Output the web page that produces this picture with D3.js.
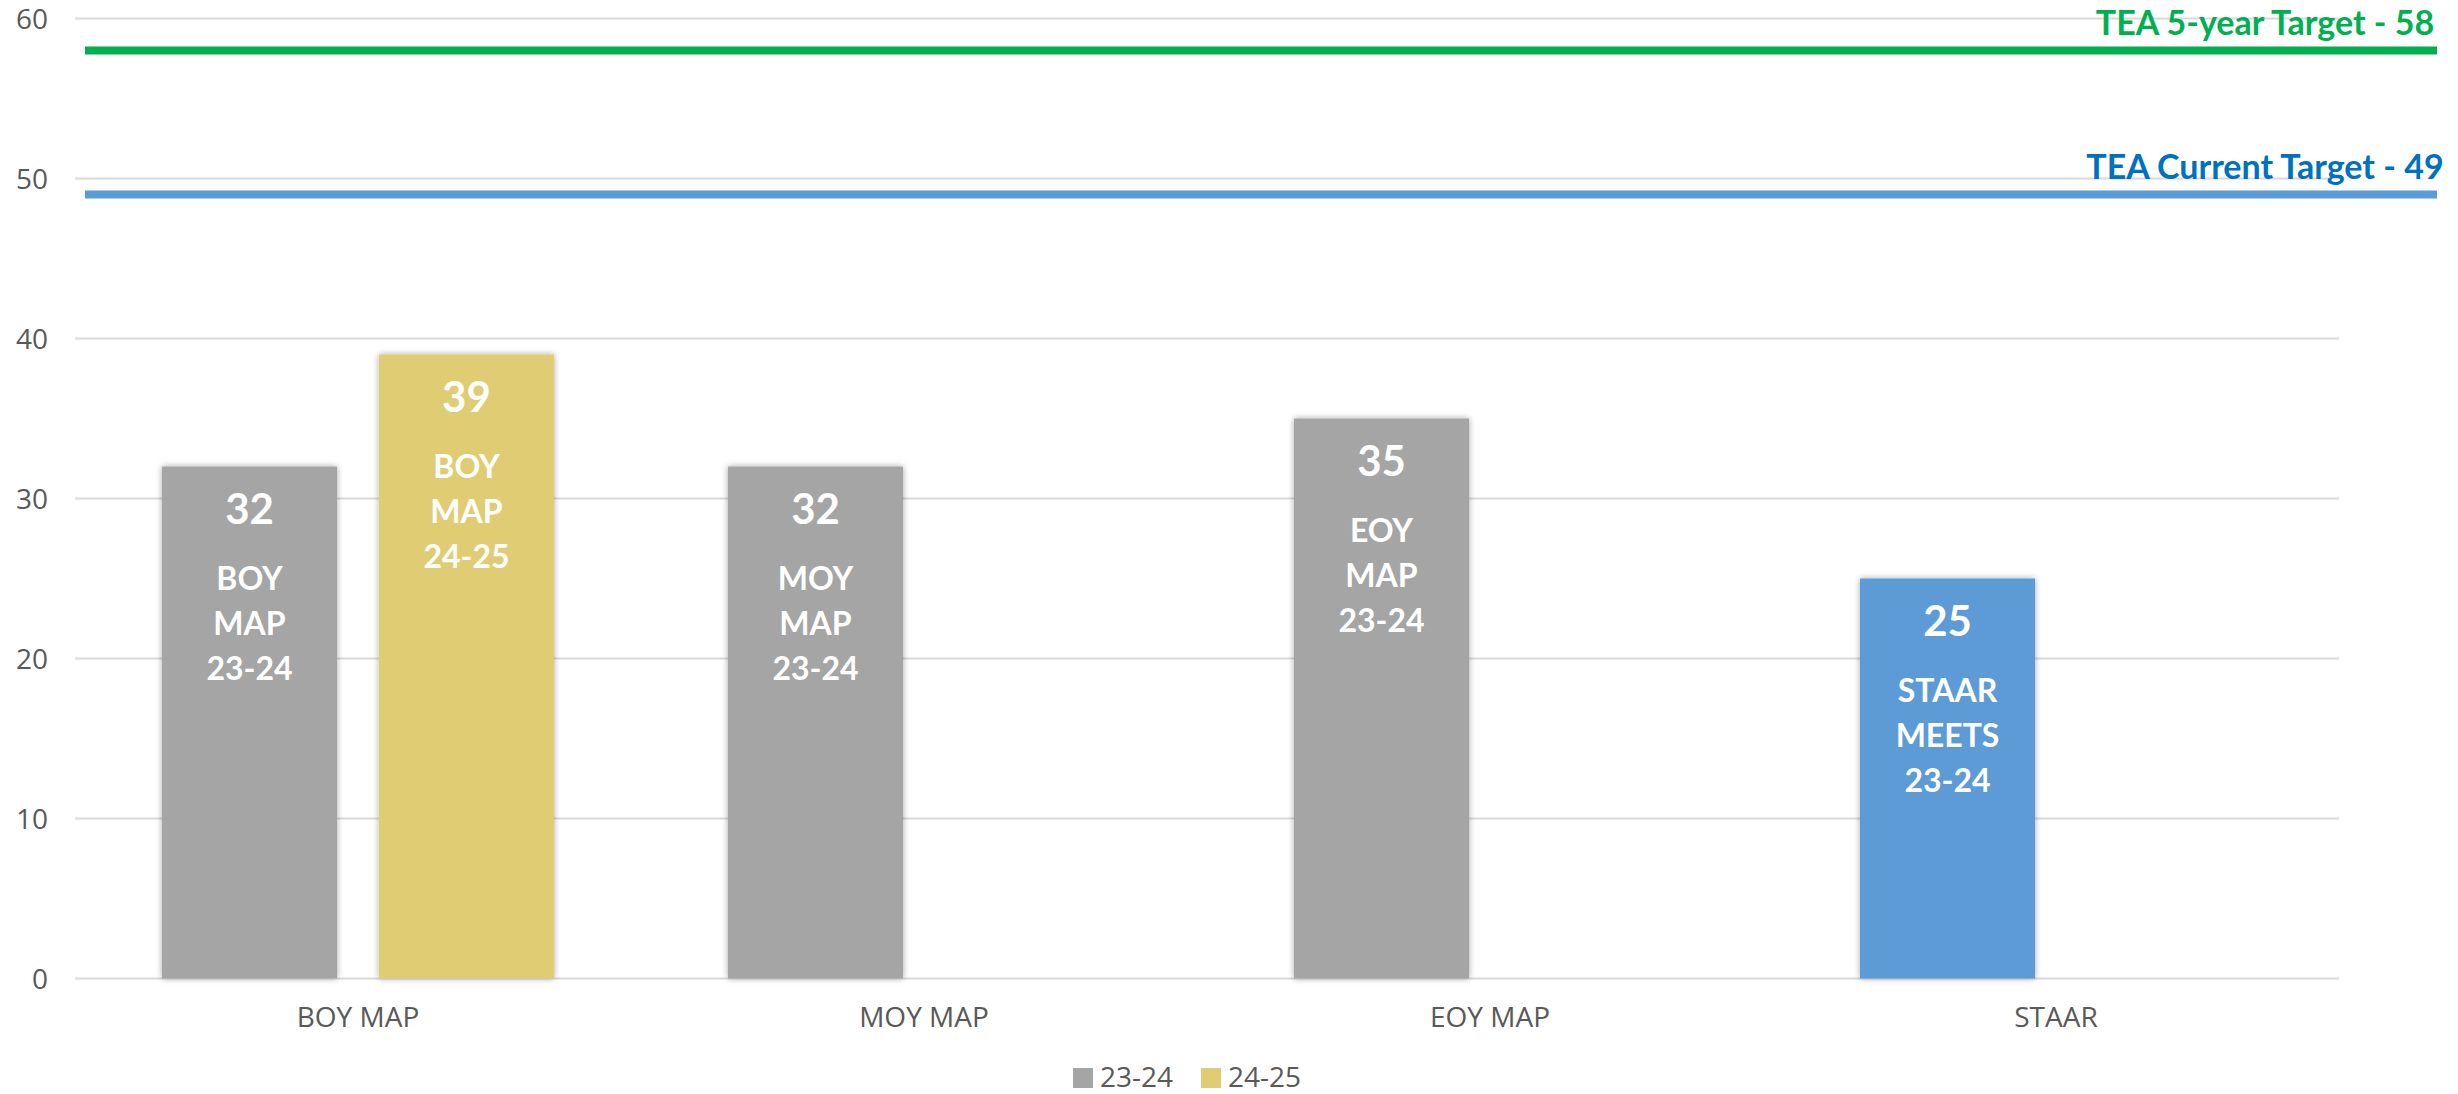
<!DOCTYPE html>
<html>
<head>
<meta charset="utf-8">
<script src="https://cdn.jsdelivr.net/npm/d3@7"></script>
<style>
  html, body { margin: 0; padding: 0; background: #ffffff; }
  svg { display: block; }
</style>
</head>
<body>
<svg id="chart" width="2458" height="1094"></svg>
<script>
// ---------------- DATA ----------------
const categories = ["BOY MAP", "MOY MAP", "EOY MAP", "STAAR"];
const seriesNames = ["23-24", "24-25"];
const values2324 = [32, 32, 35, 25];
const values2425 = [39, null, null, null];
const barText2324 = [["BOY", "MAP", "23-24"], ["MOY", "MAP", "23-24"], ["EOY", "MAP", "23-24"], ["STAAR", "MEETS", "23-24"]];
const barText2425 = [["BOY", "MAP", "24-25"], null, null, null];
const yTicks = [0, 10, 20, 30, 40, 50, 60];
const targetLabels = ["TEA 5-year Target - 58", "TEA Current Target - 49"];
const targetValues = [58, 49];
const highlightCategory = "STAAR";

// ---------------- STYLE / LAYOUT ----------------
const W = 2458, H = 1094;
const plotLeft = 75, plotRight = 2339, plotTop = 18.5, plotBottom = 978.5;
const seriesColor = { "23-24": "#A5A5A5", "24-25": "#E0CD73" };
const highlightColor = "#5B9BD5";
const targetLineColors = ["#00B050", "#5B9BD5"];
const targetTextColors = ["#00B050", "#0070C0"];
const axisFont = "'Open Sans', 'Noto Sans', sans-serif";
const labelFont = "Lato, 'Open Sans', sans-serif";
const textGray = "#595959";

const svg = d3.select("#chart");

const defs = svg.append("defs");
const f = defs.append("filter").attr("id", "shadow")
  .attr("x", "-10%").attr("y", "-10%").attr("width", "120%").attr("height", "120%");
f.append("feDropShadow").attr("dx", 0).attr("dy", 0).attr("stdDeviation", 3)
  .attr("flood-color", "#000").attr("flood-opacity", 0.35);

const y = d3.scaleLinear().domain([0, 60]).range([plotBottom, plotTop]);
const x0 = d3.scaleBand().domain(categories).range([plotLeft, plotRight]).paddingInner(0).paddingOuter(0);
const x1 = d3.scaleBand().domain(seriesNames).range([0, x0.bandwidth()])
  .paddingInner(0.1935).paddingOuter(0.401);

// Gridlines
svg.append("g").selectAll("line").data(yTicks).join("line")
  .attr("x1", plotLeft).attr("x2", plotRight)
  .attr("y1", d => y(d)).attr("y2", d => y(d))
  .attr("stroke", "#D9D9D9").attr("stroke-width", 2);

// Y axis labels
const yAxis = d3.axisLeft(y).tickValues(yTicks).tickSize(0).tickPadding(0);
const yg = svg.append("g").attr("transform", `translate(48,0)`).call(yAxis);
yg.select(".domain").remove();
yg.selectAll("text").attr("font-family", axisFont).attr("font-size", 28)
  .attr("fill", textGray).attr("dy", "0.36em");

// X axis labels
const xAxis = d3.axisBottom(x0).tickSize(0).tickPadding(0);
const xg = svg.append("g").attr("transform", `translate(0,1000)`).call(xAxis);
xg.select(".domain").remove();
xg.selectAll("text").attr("font-family", axisFont).attr("font-size", 28)
  .attr("fill", textGray).attr("dy", "0.96em");

// Build bar records
const bars = [];
categories.forEach((c, i) => {
  if (values2324[i] != null) bars.push({ cat: c, series: "23-24", value: values2324[i], lines: barText2324[i] });
  if (values2425[i] != null) bars.push({ cat: c, series: "24-25", value: values2425[i], lines: barText2425[i] });
});

const barG = svg.append("g");
barG.selectAll("rect").data(bars).join("rect")
  .attr("x", d => x0(d.cat) + x1(d.series))
  .attr("y", d => y(d.value))
  .attr("width", x1.bandwidth())
  .attr("height", d => y(0) - y(d.value))
  .attr("fill", d => d.cat === highlightCategory ? highlightColor : seriesColor[d.series])
  .attr("filter", "url(#shadow)");

// Bar labels
const lblG = svg.append("g").attr("fill", "#ffffff").attr("font-family", labelFont)
  .attr("font-weight", "bold").attr("text-anchor", "middle");
bars.forEach(d => {
  const cx = x0(d.cat) + x1(d.series) + x1.bandwidth() / 2;
  const top = y(d.value);
  lblG.append("text").attr("x", cx).attr("y", top + 57).attr("font-size", 42).text(d.value);
  d.lines.forEach((t, k) => {
    lblG.append("text").attr("x", cx).attr("y", top + 123 + k * 45).attr("font-size", 32).text(t);
  });
});

// Target lines
const tg = svg.append("g");
targetValues.forEach((v, i) => {
  tg.append("line").attr("x1", 85).attr("x2", 2437)
    .attr("y1", y(v)).attr("y2", y(v))
    .attr("stroke", targetLineColors[i]).attr("stroke-width", 8);
  tg.append("text").attr("x", 2265).attr("y", y(v) - 16)
    .attr("text-anchor", "middle").attr("font-family", labelFont).attr("font-weight", "bold")
    .attr("font-size", 34).attr("fill", targetTextColors[i]).text(targetLabels[i]);
});

// Legend
const legend = svg.append("g");
const legendX = [1073, 1201];
seriesNames.forEach((s, i) => {
  legend.append("rect").attr("x", legendX[i]).attr("y", 1068).attr("width", 20).attr("height", 20)
    .attr("fill", seriesColor[s]);
  legend.append("text").attr("x", legendX[i] + 27).attr("y", 1087)
    .attr("font-family", axisFont).attr("font-size", 28).attr("fill", textGray).text(s);
});
</script>
</body>
</html>
